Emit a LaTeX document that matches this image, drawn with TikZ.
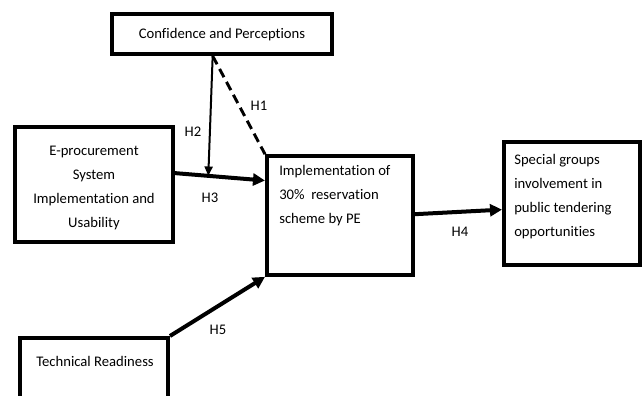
\documentclass[tikz,border=0pt]{standalone}
\usepackage{fontspec}
\setmainfont{Carlito}[Ligatures=NoCommon]
\usetikzlibrary{shapes, arrows.meta, positioning, calc}

\begin{document}
\begin{tikzpicture}[x=0.75pt, y=-0.75pt,
    boite/.style={draw, line width=3pt, inner sep=0pt},
    texte/.style={font=\fontsize{11}{18}\selectfont, inner sep=0pt},
    fleche/.style={line width=3pt, -{Triangle[length=9pt, width=9pt]}},
    hyp/.style={font=\fontsize{11}{13}\selectfont, inner sep=0pt}]
    % Cadre de la figure (taille de la référence)
    \useasboundingbox (0,0) rectangle (644,396);
    % Boîtes
    \node[boite, minimum width=165pt, minimum height=30pt] (conf) at (222,34) {};
    \node[boite, minimum width=118.5pt, minimum height=86pt] (eproc) at (94,184.5) {};
    \node[boite, minimum width=109.5pt, minimum height=89pt] (impl) at (340,215.5) {};
    \node[boite, minimum width=102pt, minimum height=92pt] (spec) at (572,203.5) {};
    \node[boite, minimum width=111pt, minimum height=48pt] (tech) at (94,370) {};
    % Textes des boîtes
    \node[texte] (confT) at (222,35) {Confidence and Perceptions};
    \node[texte, align=center] (eprocT) at (94,188) {E-procurement\\System\\Implementation and\\Usability};
    \node[texte, align=left, anchor=north west] (implT) at (279,165) {Implementation of\\30\%\ \ reservation\\scheme by PE};
    \node[texte, align=left, anchor=north west] (specT) at (514,154) {Special groups\\involvement in\\public tendering\\opportunities};
    \node[texte] (techT) at (95,361) {Technical Readiness};
    % Flèches
    \draw[fleche] (eproc.8) -- coordinate[pos=0.37] (hmid) (impl.155);
    \draw[line width=1.5pt, -{Triangle[length=7pt, width=6pt]}] ([xshift=-7pt]conf.south) -- (hmid);
    \draw[line width=2.2pt, dashed, dash pattern=on 7pt off 4pt] ([xshift=-7pt]conf.south) -- (impl.north west);
    \draw[fleche] (impl.1) -- (spec.185);
    \draw[fleche] (tech.north east) -- (impl.south west);
    % Étiquettes des hypothèses
    \node[hyp] (h1) at (259,106) {H1};
    \node[hyp] (h2) at (193,132) {H2};
    \node[hyp] (h3) at (210,198) {H3};
    \node[hyp] (h4) at (460,232) {H4};
    \node[hyp] (h5) at (218,330) {H5};
\end{tikzpicture}
\end{document}
